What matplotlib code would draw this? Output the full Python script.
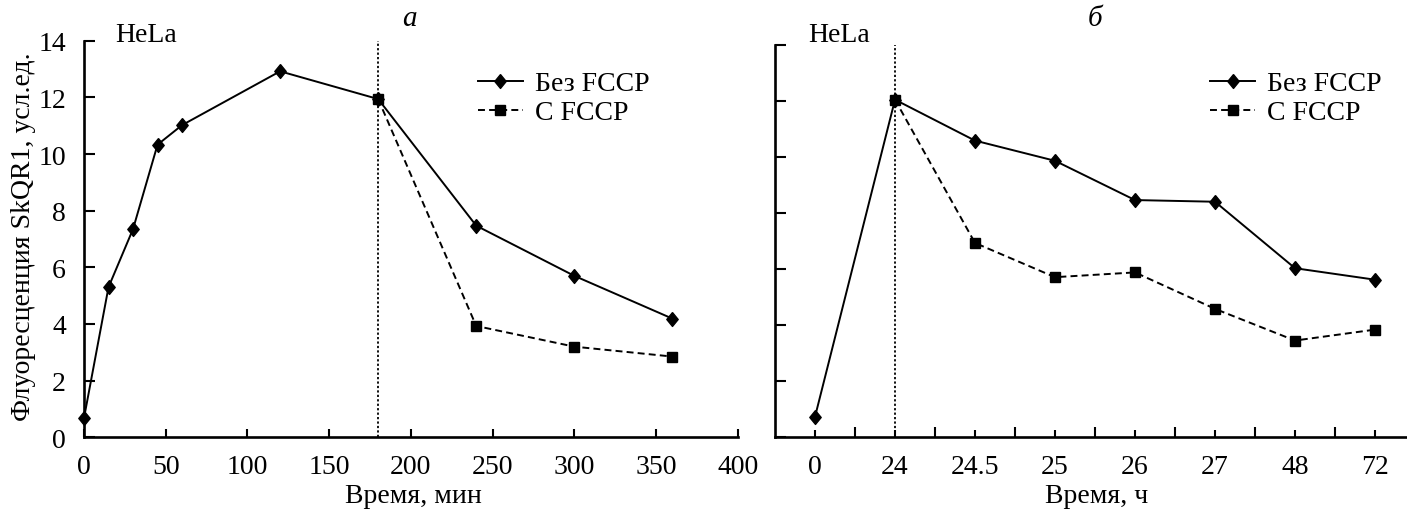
import matplotlib
matplotlib.use("Agg")
import matplotlib.pyplot as plt
from matplotlib.ticker import FixedLocator, NullFormatter
import numpy as np

plt.rcParams['font.family'] = ['Liberation Serif', 'DejaVu Serif']
plt.rcParams['lines.scale_dashes'] = False

# ---- data ----
# panel a
time_min = [0, 15, 30, 45, 60, 120, 180, 240, 300, 360]
no_fccp_a = [0.68, 5.3, 7.35, 10.33, 11.02, 12.92, 11.94, 7.47, 5.7, 4.19]
time_min_fccp = [180, 240, 300, 360]
with_fccp_a = [11.94, 3.93, 3.2, 2.85]

# panel б
time_h_labels = ['0', '24', '24.5', '25', '26', '27', '48', '72']
no_fccp_b = [0.73, 12.04, 10.58, 9.86, 8.46, 8.40, 6.03, 5.62]
fccp_b_labels = ['24', '24.5', '25', '26', '27', '48', '72']
with_fccp_b = [12.04, 6.93, 5.71, 5.88, 4.58, 3.45, 3.84]

label_no = 'Без FCCP'
label_with = 'С FCCP'

W, H = 1407, 510
fig = plt.figure(figsize=(W / 100, H / 100), dpi=100)

def px_axes(x0, x1, ytop, ybot):
    return fig.add_axes([x0 / W, (H - ybot) / H, (x1 - x0) / W, (ybot - ytop) / H])

FS = 20
diamond = [(0, 1), (0.82, 0), (0, -1), (-0.82, 0), (0, 1)]
lw_data = 1.4
dash = (5, 3)
MD = 10
MS = 7.5

def style_axes(ax):
    for s in ['top', 'right']:
        ax.spines[s].set_visible(False)
    for s in ['left', 'bottom']:
        ax.spines[s].set_linewidth(1.9)
    ax.set_ylim(0, 14)
    ax.set_yticks(np.arange(0, 15, 2))

# ---- panel a ----
axa = px_axes(84, 737.7, 41.7, 438.3)
style_axes(axa)
axa.set_xlim(0, 400)
axa.set_xticks(np.arange(0, 401, 50))
axa.tick_params(axis='y', direction='in', length=8, width=1.5, pad=13, labelsize=FS)
axa.tick_params(axis='x', direction='in', length=6, width=1.5, pad=12, labelsize=FS)
axa.axvline(180, color='black', lw=1.3, linestyle=(0, (1.6, 1.6)), zorder=1)
axa.plot(time_min, no_fccp_a, color='black', lw=lw_data, marker=diamond,
         markersize=MD, label=label_no, zorder=3, clip_on=False)
axa.plot(time_min_fccp, with_fccp_a, color='black', lw=lw_data, dashes=dash,
         marker='s', markersize=MS, label=label_with, zorder=3, clip_on=False)
axa.legend(loc='upper left', bbox_to_anchor=((486 - 84) / 653.7 - 0.012, (438.3 - 72) / 396.6),
           frameon=False, fontsize=FS, handlelength=1.6, handletextpad=0.45,
           labelspacing=0.12, borderaxespad=0, borderpad=0)

# ---- panel б ----
axb = px_axes(775, 1415, 45.7, 438.3)
style_axes(axb)
axb.set_xlim(-0.5, 7.5)
pos = np.arange(len(time_h_labels))
axb.set_xticks(pos)
axb.set_xticklabels(time_h_labels)
axb.xaxis.set_minor_locator(FixedLocator(pos[:-1] + 0.5))
axb.xaxis.set_minor_formatter(NullFormatter())
axb.set_yticklabels([])
axb.tick_params(axis='y', direction='in', length=8, width=1.5)
axb.tick_params(axis='x', which='major', direction='in', length=5, width=1.5, pad=12, labelsize=FS)
axb.tick_params(axis='x', which='minor', direction='in', length=7.5, width=1.5)
axb.axvline(1, color='black', lw=1.3, linestyle=(0, (1.6, 1.6)), zorder=1)
fccp_pos = [time_h_labels.index(l) for l in fccp_b_labels]
axb.plot(pos, no_fccp_b, color='black', lw=lw_data, marker=diamond,
         markersize=MD, label=label_no, zorder=3, clip_on=False)
axb.plot(fccp_pos, with_fccp_b, color='black', lw=lw_data, dashes=dash,
         marker='s', markersize=MS, label=label_with, zorder=3, clip_on=False)
axb.legend(loc='upper left', bbox_to_anchor=((1218 - 775) / 640 - 0.012, (438.3 - 72) / 392.6),
           frameon=False, fontsize=FS, handlelength=1.6, handletextpad=0.45,
           labelspacing=0.12, borderaxespad=0, borderpad=0)

# ---- texts ----
fig.text(115 / W, (H - 42) / H, 'HeLa', fontsize=FS, ha='left', va='baseline')
fig.text(808 / W, (H - 42) / H, 'HeLa', fontsize=FS, ha='left', va='baseline')
fig.text(409 / W, (H - 26) / H, 'а', fontsize=FS + 1, style='italic', ha='center', va='baseline')
fig.text(1095 / W, (H - 26) / H, 'б', fontsize=FS + 1, style='italic', ha='center', va='baseline')
fig.text(24 / W, (H - 237) / H, 'Флуоресценция SkQR1, усл.ед.', fontsize=FS,
         rotation=90, ha='center', va='center')
fig.text(413 / W, (H - 497) / H, 'Время, мин', fontsize=FS, ha='center', va='center')
fig.text(1097 / W, (H - 497) / H, 'Время, ч', fontsize=FS, ha='center', va='center')

fig.savefig('out.png', dpi=100)
